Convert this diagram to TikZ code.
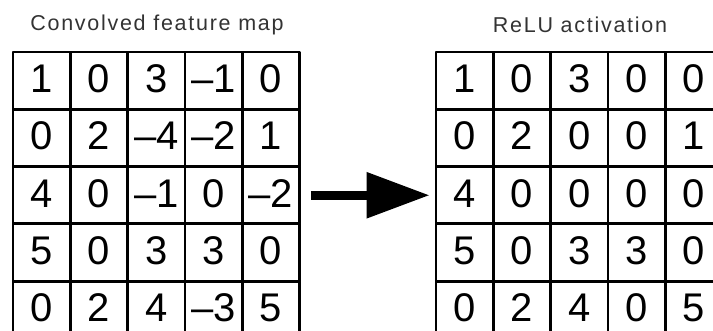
\documentclass[tikz,border=0pt]{standalone}
\usepackage{fontspec}
\setmainfont{Liberation Sans}
\newfontfamily\titlefont[LetterSpace=8]{Liberation Sans}
\usetikzlibrary{arrows.meta}

\begin{document}
\begin{tikzpicture}[x=1pt,y=-1pt,line join=round,line cap=round]
	\def\w{57.3} \def\lx{13} \def\rx{436} \def\ty{52} % grid size and corners
	\tikzset{cell/.style={draw=black,line width=2.8pt,minimum size=\w pt,inner sep=0pt},
		digit/.style={inner sep=0pt,yshift=2pt,font=\fontsize{40}{40}\selectfont},
		title/.style={text=black!80,font=\titlefont\fontsize{21.5}{21.5}\selectfont}}
	\useasboundingbox (0,0) rectangle (713,331);
	\clip (0,0) rectangle (713,331);
	% input map
	\foreach \row [count=\i] in {{1,0,3,–1,0},{0,2,–4,–2,1},{4,0,–1,0,–2},{5,0,3,3,0},{0,2,4,–3,5}}
		\foreach \v [count=\j] in \row {
			\node[cell] (L\i\j) at ({\lx+(\j-0.5)*\w},{\ty+(\i-0.5)*\w}) {};
			\node[digit] (l\i\j) at (L\i\j) {\v};
		}
	% after relu
	\foreach \row [count=\i] in {{1,0,3,0,0},{0,2,0,0,1},{4,0,0,0,0},{5,0,3,3,0},{0,2,4,0,5}}
		\foreach \v [count=\j] in \row {
			\node[cell] (R\i\j) at ({\rx+(\j-0.5)*\w},{\ty+(\i-0.5)*\w}) {};
			\node[digit] (r\i\j) at (R\i\j) {\v};
		}
	\node[title] (ltitle) at (157,25) {Convolved feature map};
	\node[title] (rtitle) at (580,25) {ReLU activation};
	\draw[-{Triangle[length=63pt,width=44pt]},line width=9pt,line cap=butt,shorten <=10pt,shorten >=5pt] (L35.east)--(R31.west);
\end{tikzpicture}
\end{document}
